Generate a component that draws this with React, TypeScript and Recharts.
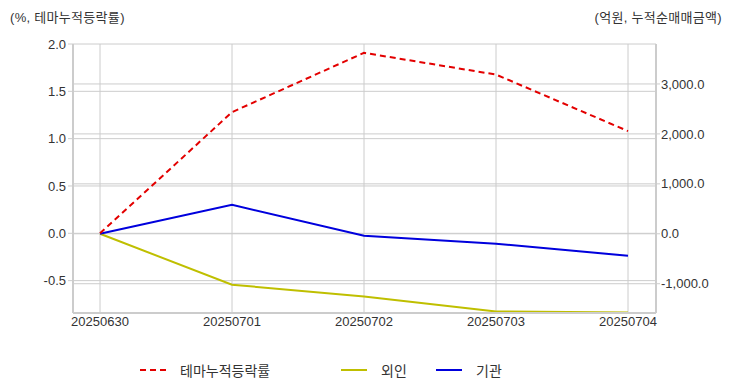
import { LineChart, Line, XAxis, YAxis, CartesianGrid } from 'recharts';

// values
const dates = ['20250630', '20250701', '20250702', '20250703', '20250704'];
const themeReturn = [0.0, 1.28, 1.907, 1.677, 1.08];
const foreignNet = [0, -1020, -1254, -1554, -1574];
const institutionNet = [0, 580, -40, -200, -440];

const leftTicks = [-0.5, 0, 0.5, 1.0, 1.5, 2.0];
const rightTicks = [-1000, 0, 1000, 2000, 3000];

const RED = '#e30000';
const YELLOW = '#bfbf00';
const BLUE = '#0000dd';
const GRID = '#cccccc';
const FONT = '"Liberation Sans", Arial, "Noto Sans CJK KR", sans-serif';

const chartData = dates.map((d, i) => ({
  date: d,
  theme: themeReturn[i],
  foreign: foreignNet[i],
  institution: institutionNet[i],
}));

const legendItems = [
  { label: '테마누적등락률', color: RED, dash: '6 4', textWidth: 95, gap: 66 },
  { label: '외인', color: YELLOW, dash: undefined, textWidth: 24, gap: 31 },
  { label: '기관', color: BLUE, dash: undefined, textWidth: 26, gap: 0 },
];

const tickStyle = { fontSize: 13, fill: '#333', fontFamily: FONT };

export default function App() {
  return (
    <div style={{ position: 'relative', width: 732, height: 392, fontFamily: FONT, color: '#333' }}>
      <style>{'body{margin:0}'}</style>
      <div style={{ position: 'absolute', left: 10, top: 7, fontSize: 13, letterSpacing: 0.3 }}>(%, 테마누적등락률)</div>
      <div style={{ position: 'absolute', right: 10, top: 7, fontSize: 13, letterSpacing: 0.3 }}>(억원, 누적순매매금액)</div>
      <LineChart width={732} height={392} data={chartData} margin={{ top: 44, right: 0, bottom: 49, left: 0 }}>
        <CartesianGrid yAxisId="left" stroke={GRID} vertical={true} horizontal={true} horizontalValues={leftTicks} />
        <CartesianGrid yAxisId="right" stroke={GRID} vertical={false} horizontal={true} horizontalValues={rightTicks} />
        <XAxis
          dataKey="date"
          padding={{ left: 27, right: 28 }}
          tickSize={0}
          tickMargin={4}
          tick={tickStyle}
          axisLine={{ stroke: GRID, strokeWidth: 2 }}
          interval={0}
        />
        <XAxis xAxisId="top" dataKey="date" orientation="top" height={0} tick={false} tickLine={false} axisLine={{ stroke: GRID, strokeWidth: 2 }} />
        <YAxis
          yAxisId="left"
          width={73}
          domain={[-0.842, 2.0]}
          ticks={leftTicks}
          allowDataOverflow
          tickFormatter={(v: number) => v.toFixed(1)}
          tick={tickStyle}
          tickSize={5}
          tickMargin={2}
          tickLine={{ stroke: GRID }}
          axisLine={{ stroke: GRID, strokeWidth: 2 }}
        />
        <YAxis
          yAxisId="right"
          orientation="right"
          width={76}
          domain={[-1586, 3800]}
          ticks={rightTicks}
          allowDataOverflow
          tickFormatter={(v: number) =>
            v.toLocaleString('en-US', { minimumFractionDigits: 1, maximumFractionDigits: 1 })
          }
          tick={{ ...tickStyle, textAnchor: 'start' }}
          tickSize={4}
          tickMargin={1}
          tickLine={{ stroke: GRID }}
          axisLine={{ stroke: GRID, strokeWidth: 2 }}
        />
        <Line yAxisId="right" dataKey="foreign" stroke={YELLOW} strokeWidth={2} dot={false} isAnimationActive={false} />
        <Line yAxisId="right" dataKey="institution" stroke={BLUE} strokeWidth={2} dot={false} isAnimationActive={false} />
        <Line
          yAxisId="left"
          dataKey="theme"
          stroke={RED}
          strokeWidth={2}
          strokeDasharray="6 4"
          dot={false}
          isAnimationActive={false}
        />
      </LineChart>
      <div
        style={{
          position: 'absolute',
          left: 140,
          top: 360,
          display: 'flex',
          alignItems: 'center',
          fontSize: 14,
        }}
      >
        {legendItems.map((it) => (
          <div key={it.label} style={{ display: 'flex', alignItems: 'center', marginRight: it.gap }}>
            <svg width={26} height={4} style={{ marginRight: 14 }}>
              <line x1={0} y1={2} x2={26} y2={2} stroke={it.color} strokeWidth={2} strokeDasharray={it.dash} />
            </svg>
            <span style={{ display: 'inline-block', width: it.textWidth, whiteSpace: 'nowrap' }}>{it.label}</span>
          </div>
        ))}
      </div>
    </div>
  );
}
